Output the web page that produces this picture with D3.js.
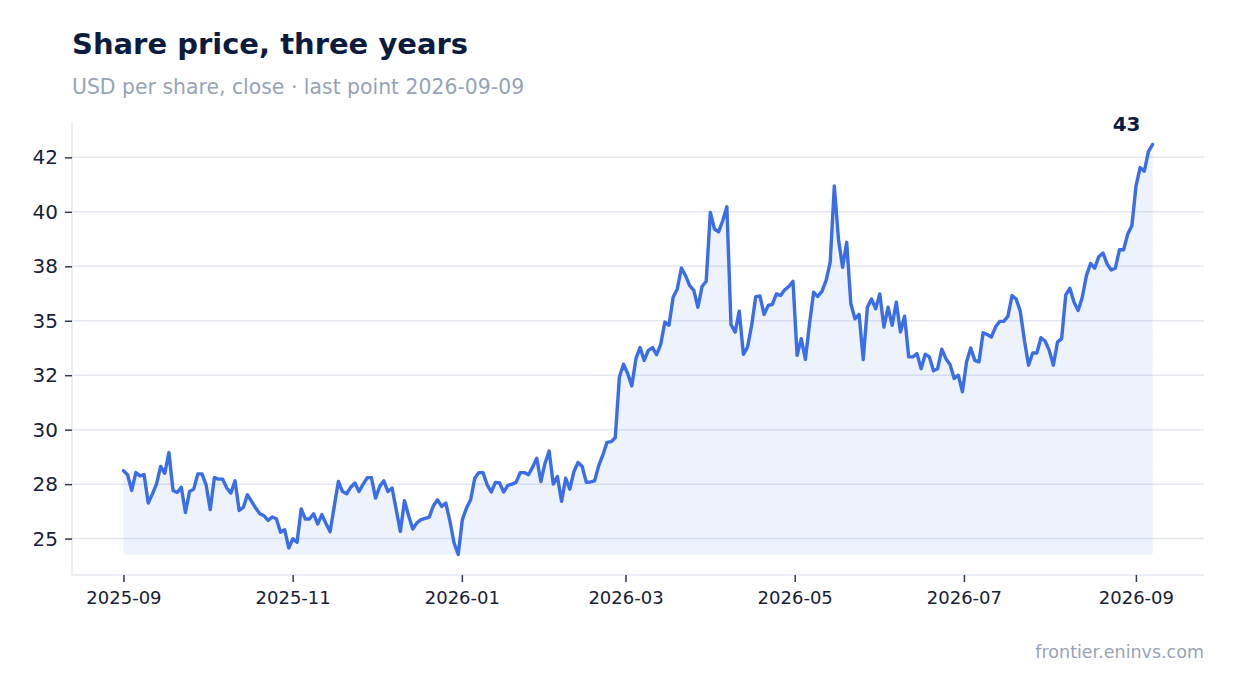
<!DOCTYPE html>
<html>
<head>
<meta charset="utf-8">
<script src="https://cdn.jsdelivr.net/npm/d3@7"></script>
<style>
  html, body { margin: 0; padding: 0; background: #ffffff; }
  svg { display: block; font-family: "DejaVu Sans", sans-serif; }
</style>
</head>
<body>
<svg id="chart" width="1234" height="693"></svg>
<script>
// closing prices, evenly spaced between the two dates
const startDate = "2025-09-01";
const endDate = "2026-09-07";
const closes = [
  28.11, 27.93, 27.21, 28.03, 27.88, 27.93, 26.63, 27.04, 27.51, 28.31,
  28.0, 28.95, 27.21, 27.12, 27.35, 26.2, 27.16, 27.27, 27.97, 27.97,
  27.47, 26.33, 27.8, 27.73, 27.73, 27.32, 27.09, 27.65, 26.29, 26.43,
  27.01, 26.71, 26.4, 26.14, 26.05, 25.84, 25.99, 25.91, 25.29, 25.41,
  24.57,
  24.99, 24.83, 26.36, 25.9, 25.9, 26.14, 25.67, 26.1, 25.69, 25.31,
  26.48, 27.62, 27.16, 27.06, 27.36, 27.55, 27.16, 27.5, 27.8, 27.8,
  26.86, 27.39, 27.65, 27.16, 27.32, 26.33, 25.33, 26.74, 26.05, 25.44,
  25.72, 25.87, 25.93, 25.99, 26.51, 26.78, 26.48, 26.63, 25.79, 24.8,
  24.27, 25.87,
  26.4, 26.78, 27.77, 28.03, 28.03, 27.47, 27.14, 27.58, 27.55, 27.14,
  27.44, 27.5, 27.58, 28.03, 28.03, 27.93, 28.28, 28.69, 27.62, 28.46,
  29.02, 27.5, 27.85, 26.71, 27.77, 27.27, 28.08, 28.49, 28.31, 27.58,
  27.6, 27.65, 28.35, 28.84, 29.42, 29.45, 29.63, 32.42, 33.0, 32.58,
  32.01, 33.26,
  33.77, 33.18, 33.64, 33.77, 33.44, 33.92, 34.94, 34.79, 36.08, 36.46,
  37.42, 37.07, 36.61, 36.39, 35.62, 36.57, 36.81, 39.97, 39.21, 39.08,
  39.59, 40.23, 34.83, 34.48, 35.44, 33.46, 33.79, 34.79, 36.11, 36.14,
  35.29, 35.7, 35.75, 36.23, 36.16, 36.42, 36.57, 36.81, 33.41, 34.18,
  33.22, 34.86, 36.31,
  36.11, 36.35, 36.84, 37.68, 41.19, 38.75, 37.45, 38.6, 35.78, 35.09,
  35.29, 33.22, 35.62, 36.0, 35.55, 36.23, 34.71, 35.62, 34.79, 35.85,
  34.48, 35.21, 33.34, 33.34, 33.49, 32.8, 33.46, 33.34, 32.7, 32.8,
  33.69, 33.26, 32.99, 32.35, 32.5, 31.74, 33.11, 33.75, 33.18, 33.11,
  34.45,
  34.37, 34.25, 34.71, 34.97, 34.97, 35.2, 36.16, 36.0, 35.43, 34.1,
  32.96, 33.52, 33.52, 34.22, 34.07, 33.64, 32.96, 34.02, 34.18, 36.19,
  36.49, 35.85, 35.47, 36.08, 37.07, 37.63, 37.41, 37.94, 38.11, 37.61,
  37.33, 37.41, 38.26, 38.26, 38.98, 39.36, 41.19, 42.03, 41.87, 42.76,
  43.09
];

const yTickValues = [25, 27.5, 30, 32.5, 35, 37.5, 40, 42.5];
const yTickLabels = ["25", "28", "30", "32", "35", "38", "40", "42"];
const xTickLabels = ["2025-09", "2025-11", "2026-01", "2026-03", "2026-05", "2026-07", "2026-09"];

const titleText = "Share price, three years";
const subtitleText = "USD per share, close \u00b7 last point 2026-09-09";
const sourceText = "frontier.eninvs.com";

const lineColor = "#3a6de8";
const gridColor = "#e4e8f0";
const inkColor = "#0d1b3e";
const mutedColor = "#97a3b6";

const margin = {left: 72, right: 30, top: 124, bottom: 118};
const width = 1234, height = 693;

const parseDay = d3.utcParse("%Y-%m-%d");
const parseMonth = d3.utcParse("%Y-%m");
const t0 = parseDay(startDate).getTime();
const t1 = parseDay(endDate).getTime();

const data = closes.map((c, i) => ({
  date: new Date(t0 + i * (t1 - t0) / (closes.length - 1)),
  close: c
}));

const svg = d3.select("#chart");

// 5% padding either side, on both axes
const xExt = d3.extent(data, d => d.date);
const xPad = (xExt[1] - xExt[0]) * 0.05;
const xScale = d3.scaleUtc()
  .domain([new Date(+xExt[0] - xPad), new Date(+xExt[1] + xPad)])
  .range([margin.left, width - margin.right]);

const yMin = d3.min(data, d => d.close);
const yMax = d3.max(data, d => d.close);
const yPad = (yMax - yMin) * 0.05;
const yScale = d3.scaleLinear()
  .domain([yMin - yPad, yMax + yPad])
  .range([height - margin.bottom, margin.top]);

// title block
svg.append("text")
  .attr("x", 72).attr("y", 54)
  .attr("font-size", 29).attr("font-weight", "bold")
  .attr("fill", inkColor)
  .text(titleText);

svg.append("text")
  .attr("x", 72).attr("y", 94)
  .attr("font-size", 20.4)
  .attr("fill", mutedColor)
  .text(subtitleText);

// gridlines
svg.append("g")
  .selectAll("line")
  .data(yTickValues)
  .join("line")
  .attr("x1", margin.left).attr("x2", width - margin.right)
  .attr("y1", d => yScale(d)).attr("y2", d => yScale(d))
  .attr("stroke", gridColor)
  .attr("stroke-width", 1.5);

// area under the line, down to the lowest close
const area = d3.area()
  .x(d => xScale(d.date))
  .y0(yScale(yMin))
  .y1(d => yScale(d.close));

svg.append("path")
  .datum(data)
  .attr("d", area)
  .attr("fill", lineColor)
  .attr("fill-opacity", 0.085);

const line = d3.line()
  .x(d => xScale(d.date))
  .y(d => yScale(d.close));

svg.append("path")
  .datum(data)
  .attr("d", line)
  .attr("fill", "none")
  .attr("stroke", lineColor)
  .attr("stroke-width", 3.4)
  .attr("stroke-linejoin", "round")
  .attr("stroke-linecap", "round");

// y axis
const yAxis = d3.axisLeft(yScale)
  .tickValues(yTickValues)
  .tickFormat((d, i) => yTickLabels[i])
  .tickSize(7)
  .tickPadding(7);

const gy = svg.append("g")
  .attr("transform", "translate(" + margin.left + ",0)")
  .call(yAxis);
gy.select(".domain")
  .attr("d", "M0," + (margin.top - 2) + "V" + (height - margin.bottom))
  .attr("stroke", gridColor).attr("stroke-width", 1.5);
gy.selectAll(".tick line").attr("stroke", "#2f3a4f").attr("stroke-width", 1.5);
gy.selectAll(".tick text")
  .attr("font-size", 20)
  .attr("font-family", "DejaVu Sans")
  .attr("fill", "#172036");

// x axis
const xAxis = d3.axisBottom(xScale)
  .tickValues(xTickLabels.map(parseMonth))
  .tickFormat(d3.utcFormat("%Y-%m"))
  .tickSize(7)
  .tickPadding(9);

const gx = svg.append("g")
  .attr("transform", "translate(0," + (height - margin.bottom) + ")")
  .call(xAxis);
gx.select(".domain")
  .attr("d", "M" + margin.left + ",0H" + (width - margin.right))
  .attr("stroke", gridColor).attr("stroke-width", 1.5);
gx.selectAll(".tick line").attr("stroke", "#2f3a4f").attr("stroke-width", 1.5);
gx.selectAll(".tick text")
  .attr("font-size", 18)
  .attr("font-family", "DejaVu Sans")
  .attr("fill", "#172036");

// last value label
const last = data[data.length - 1];
svg.append("text")
  .attr("x", xScale(last.date) - 12)
  .attr("y", yScale(last.close) - 14)
  .attr("text-anchor", "end")
  .attr("font-size", 20).attr("font-weight", "bold")
  .attr("fill", inkColor)
  .text(d3.format(".0f")(last.close));

// source
svg.append("text")
  .attr("x", width - margin.right).attr("y", 658)
  .attr("text-anchor", "end")
  .attr("font-size", 17.5)
  .attr("fill", mutedColor)
  .text(sourceText);
</script>
</body>
</html>
